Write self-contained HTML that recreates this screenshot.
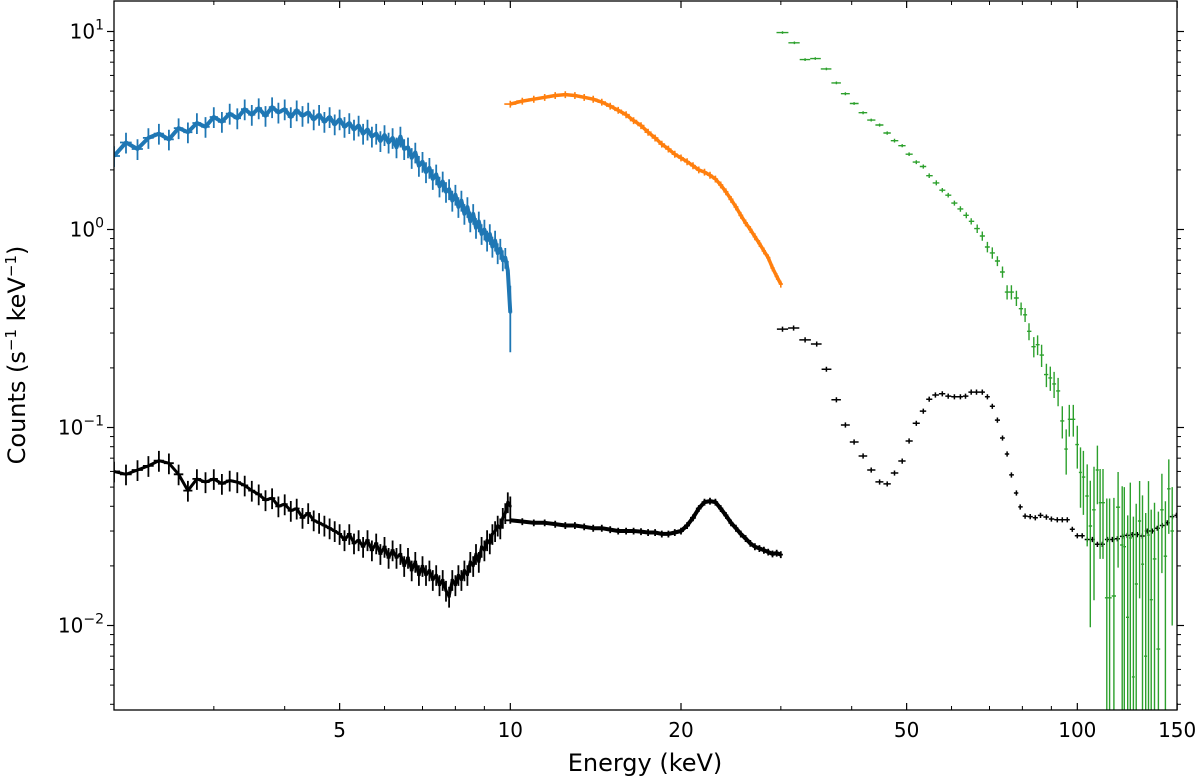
<!DOCTYPE html>
<html><head><meta charset="utf-8">
<style>
html,body{margin:0;padding:0;background:#fff;width:1200px;height:777px;overflow:hidden;}
svg{display:block;font-family:"DejaVu Sans","Liberation Sans",sans-serif;}
</style></head>
<body>
<svg id="chart" width="1200" height="777" viewBox="0 0 1200 777" xmlns="http://www.w3.org/2000/svg">
<defs><clipPath id="plotclip"><rect x="114" y="1" width="1063" height="709"/></clipPath></defs>
<rect x="0" y="0" width="1200" height="777" fill="#fff"/>
<g id="series" clip-path="url(#plotclip)"></g>
<g id="axes"></g>
<text x="645" y="771" font-size="24" text-anchor="middle">Energy (keV)</text>
<text transform="translate(25,355) rotate(-90)" font-size="24" text-anchor="middle">Counts (s<tspan font-size="15" dy="-9">−1</tspan><tspan dy="9"> keV</tspan><tspan font-size="15" dy="-9">−1</tspan><tspan dy="9">)</tspan></text>
</svg>
<script>
// ---- data ----
const blueE = [2.0,2.1,2.2,2.3,2.4,2.5,2.6,2.7,2.8,2.9,3.0,3.1,3.2,3.3,3.4,3.5,3.6,3.7,3.8,3.9,4.0,4.1,4.2,4.3,4.4,4.5,4.6,4.7,4.8,4.9,5.0,5.1,5.2,5.3,5.4,5.5,5.6,5.7,5.8,5.9,6.0,6.1,6.2,6.3,6.4,6.5,6.6,6.7,6.8,6.9,7.0,7.1,7.2,7.3,7.4,7.5,7.6,7.7,7.8,7.9,8.0,8.1,8.2,8.3,8.4,8.5,8.6,8.7,8.8,8.9,9.0,9.1,9.2,9.3,9.4,9.5,9.6,9.7,9.8,9.9,10.0];
const blueV = [2.35,2.75,2.55,2.9,3.05,2.85,3.25,3.1,3.45,3.3,3.7,3.5,3.85,3.65,4.05,3.8,4.1,3.75,4.15,3.9,4.05,3.7,4.0,3.75,3.9,3.6,3.8,3.5,3.7,3.4,3.6,3.3,3.45,3.2,3.35,3.05,3.2,2.95,3.05,2.8,3.0,2.75,2.9,2.6,2.95,2.55,2.6,2.3,2.45,2.1,2.2,1.95,2.05,1.8,1.9,1.65,1.75,1.55,1.6,1.4,1.5,1.3,1.4,1.2,1.3,1.1,1.2,1.02,1.1,0.95,1.0,0.88,0.95,0.82,0.88,0.76,0.8,0.7,0.72,0.62,0.38];
const blueRelErr = 0.12;
const blueLastErr = 0.14;

const orangeE = [10,10.5,11,11.5,12,12.5,13,13.5,14,14.5,15,15.5,16,16.5,17,17.5,18,18.5,19,19.5,20,20.5,21,21.5,22,22.5,23,23.5,24,24.5,25,25.5,26,26.5,27,27.5,28,28.5,29,29.5,30];
const orangeV = [4.3,4.45,4.55,4.65,4.75,4.8,4.75,4.65,4.55,4.4,4.2,4.0,3.8,3.55,3.35,3.1,2.9,2.7,2.55,2.4,2.3,2.2,2.1,2.0,1.95,1.88,1.8,1.68,1.55,1.42,1.3,1.18,1.08,1.0,0.92,0.85,0.78,0.72,0.64,0.58,0.53];
const orangeRelErr = 0.04;

const blackLowE = [2.0,2.1,2.2,2.3,2.4,2.5,2.6,2.7,2.8,2.9,3.0,3.1,3.2,3.3,3.4,3.5,3.6,3.7,3.8,3.9,4.0,4.1,4.2,4.3,4.4,4.5,4.6,4.7,4.8,4.9,5.0,5.1,5.2,5.3,5.4,5.5,5.6,5.7,5.8,5.9,6.0,6.1,6.2,6.3,6.4,6.5,6.6,6.7,6.8,6.9,7.0,7.1,7.2,7.3,7.4,7.5,7.6,7.7,7.8,7.9,8.0,8.1,8.2,8.3,8.4,8.5,8.6,8.7,8.8,8.9,9.0,9.1,9.2,9.3,9.4,9.5,9.6,9.7,9.8,9.9,10.0];
const blackLowV = [.060,.058,.061,.064,.068,.066,.058,.048,.055,.053,.055,.052,.054,.053,.051,.048,.046,.043,.044,.040,.041,.038,.039,.035,.037,.034,.033,.032,.031,.030,.029,.027,.029,.026,.027,.025,.027,.024,.026,.023,.025,.022,.024,.022,.023,.020,.022,.019,.021,.018,.020,.018,.019,.017,.018,.016,.017,.015,.014,.017,.016,.018,.017,.019,.018,.021,.020,.023,.021,.025,.024,.027,.026,.029,.030,.032,.031,.035,.037,.042,.040];
const blackLowRelErr = 0.12;

const blackMidE = [10,10.5,11,11.5,12,12.5,13,13.5,14,14.5,15,15.5,16,16.5,17,17.5,18,18.5,19,19.5,20,20.5,21,21.5,22,22.5,23,23.5,24,24.5,25,25.5,26,26.5,27,27.5,28,28.5,29,29.5,30];
const blackMidV = [.034,.0335,.033,.033,.0325,.032,.032,.0315,.031,.031,.0305,.030,.030,.030,.0298,.0295,.0295,.029,.029,.0295,.030,.032,.035,.039,.042,.0425,.042,.039,.036,.033,.031,.029,.0275,.026,.025,.0245,.024,.0235,.023,.0232,.0228];
const blackMidRelErr = 0.04;

const blackHighE = [30.2,31.6,33.1,34.7,36.1,37.6,39.0,40.4,41.9,43.3,44.8,46.2,47.6,49.1,50.5,52.0,53.5,54.8,56.2,57.8,59.2,60.7,62.2,63.5,65.0,66.4,68.0,69.4,70.8,72.3,73.8,75.2,76.5,78.1,79.3,80.9,82.6,84.3,86.1,88.2,90.0,92.2,94.1,96.0,98.0,100,102,104.1,106.3,108.5,110.7,113,115.3,117.7,120.1,122.5,125,127.6,130.2,132.9,135.6,138.4,141.2,144.1,147.1,149.6];
const blackHighV = [.314,.318,.277,.264,.197,.138,.103,.0845,.0718,.0610,.0531,.0519,.0589,.0677,.0855,.105,.121,.139,.146,.148,.144,.143,.143,.144,.151,.151,.151,.143,.128,.109,.0885,.0735,.0576,.0467,.0397,.0357,.0355,.0350,.0360,.0353,.0345,.0342,.0342,.0342,.0306,.0284,.0284,.0272,.0272,.0257,.0257,.0272,.0272,.0274,.0282,.0285,.0288,.0288,.0283,.030,.030,.031,.032,.033,.0355,.036];
const blackHighRelErr = 0.03;

const greenE = [30.2,31.7,33.1,34.5,36.1,37.6,39.0,40.4,41.9,43.3,44.8,46.2,47.6,49.1,50.5,52.0,53.5,54.8,56.4,57.8,59.2,60.7,62.2,63.7,65.0,66.6,68.0,69.4,70.8,72.3,73.8,75.2,76.5,78.1,79.6,80.9,82.2,83.8,85.1,86.5,88.2,89.6,91.0,92.5,94.1,95.6,96.8,98.4,100,101.3,102.5,104.1,105.4,107,108.5,109.7,111,112.7,114,116,118,120,121,122.7,124,125.6,127,128.8,130.3,132,133.5,135,136.8,139,141,143,145,147];
const greenV = [9.87,8.77,7.21,7.30,6.47,5.50,4.85,4.33,3.89,3.57,3.37,3.07,2.81,2.65,2.40,2.19,2.08,1.87,1.72,1.58,1.49,1.36,1.27,1.18,1.10,1.01,.927,.816,.762,.693,.61,.483,.483,.451,.398,.371,.306,.256,.262,.232,.185,.178,.166,.153,.108,.0778,.110,.110,.082,.0593,.0562,.0451,.0318,.0384,.061,.0417,.0417,.0138,.0138,.0141,.0396,.0255,.025,.011,.0277,.0055,.0162,.0337,.0204,.0070,.0286,.0135,.0217,.0076,.0384,.0224,.049,.030];
const greenErr = [.15,.13,.11,.11,.10,.09,.08,.07,.07,.06,.06,.06,.06,.05,.05,.05,.05,.05,.05,.04,.04,.04,.04,.04,.04,.05,.05,.05,.05,.04,.04,.04,.04,.04,.03,.03,.03,.03,.03,.03,.025,.025,.025,.025,.02,.02,.02,.02,.02,.02,.02,.02,.022,.025,.02,.02,.02,.03,.03,.03,.02,.025,.025,.025,.025,.03,.025,.02,.025,.03,.025,.025,.02,.03,.02,.02,.02,.02];

const xMajorTicks = [5,10,20,50,100,150];
const xMajorLabels = ["5","10","20","50","100","150"];
const xMinorTicks = [3,4,6,7,8,9,30,40,60,70,80,90];
const yMajorTicks = [10,1,0.1,0.01];
const yMajorExp = ["1","0","−1","−2"];

// ---- scales ----
const PL=114, PR=1177, PT=1, PB=710;
const xMin=2;
function X(e){ return PL + (Math.log10(e)-Math.log10(xMin))*567; }
function Y(v){ if(v<=0) return PB+1; return Math.min(PB+1, 31.5 + (1-Math.log10(v))*198); }

const NS="http://www.w3.org/2000/svg";
const gS=document.getElementById('series');
const gA=document.getElementById('axes');
function line(g,x1,y1,x2,y2,col,w){
  const l=document.createElementNS(NS,'line');
  l.setAttribute('x1',x1);l.setAttribute('y1',y1);l.setAttribute('x2',x2);l.setAttribute('y2',y2);
  l.setAttribute('stroke',col);l.setAttribute('stroke-width',w);
  g.appendChild(l);return l;
}

function drawSeries(name,E,V,errFn,col,w,bandW){
  const g=document.createElementNS(NS,'g');
  
  
  gS.appendChild(g);
  if(bandW){
    let pts='';
    for(let i=0;i<E.length;i++){ pts+=X(E[i]).toFixed(1)+','+Y(V[i]).toFixed(1)+' '; }
    const pl=document.createElementNS(NS,'polyline');
    pl.setAttribute('points',pts);pl.setAttribute('fill','none');pl.setAttribute('stroke',col);
    pl.setAttribute('stroke-width',bandW);pl.setAttribute('stroke-linejoin','round');
    
    
    g.appendChild(pl);
  }
  let d='';
  for(let i=0;i<E.length;i++){
    const e=E[i], v=V[i], er=errFn(i);
    const lo = i>0 ? Math.sqrt(E[i-1]*e) : e*e/Math.sqrt(e*E[i+1]);
    const hi = i<E.length-1 ? Math.sqrt(E[i+1]*e) : e*e/Math.sqrt(e*E[i-1]);
    const x=X(e), y=Y(v);
    d+=`M${Math.max(PL,X(lo)).toFixed(1)} ${y.toFixed(1)}H${Math.min(PR,X(hi)).toFixed(1)}`;
    d+=`M${x.toFixed(1)} ${Y(v+er).toFixed(1)}V${Y(v-er).toFixed(1)}`;
  }
  const p=document.createElementNS(NS,'path');
  p.setAttribute('d',d);p.setAttribute('stroke',col);p.setAttribute('stroke-width',w);p.setAttribute('fill','none');
  
  
  g.appendChild(p);
}

drawSeries('black-low-series',blackLowE,blackLowV,i=>blackLowV[i]*blackLowRelErr,'#000',1.8,3);
drawSeries('black-mid-series',blackMidE,blackMidV,i=>blackMidV[i]*blackMidRelErr,'#000',1.8,4);
drawSeries('black-high-series',blackHighE,blackHighV,i=>blackHighV[i]*blackHighRelErr,'#000',1.5,0);
drawSeries('blue-series',blueE,blueV,i=>i===blueV.length-1?blueLastErr:blueV[i]*blueRelErr,'#1f77b4',1.8,4);
drawSeries('orange-series',orangeE,orangeV,i=>orangeV[i]*orangeRelErr,'#ff7f0e',1.6,3.5);
drawSeries('green-series',greenE,greenV,i=>greenErr[i],'#2ca02c',1.4,0);

// ---- axes ----
const frame=document.createElementNS(NS,'rect');
frame.setAttribute('x',PL);frame.setAttribute('y',PT);frame.setAttribute('width',PR-PL);frame.setAttribute('height',PB-PT);
frame.setAttribute('fill','none');frame.setAttribute('stroke','#000');frame.setAttribute('stroke-width',1.3);


gA.appendChild(frame);

xMajorTicks.forEach((t,i)=>{
  const x=X(t);
  line(gA,x,PB,x,PB-7,'#000',1.2);
  line(gA,x,PT,x,PT+7,'#000',1.2);
  const tx=document.createElementNS(NS,'text');
  tx.setAttribute('x',x);tx.setAttribute('y',737);tx.setAttribute('font-size',20);tx.setAttribute('text-anchor','middle');
  tx.textContent=xMajorLabels[i];
  
  
  gA.appendChild(tx);
});
xMinorTicks.forEach(t=>{
  const x=X(t);
  line(gA,x,PB,x,PB-4,'#000',1);
  line(gA,x,PT,x,PT+4,'#000',1);
});
yMajorTicks.forEach((t,i)=>{
  const y=31.5 + (1-Math.log10(t))*198;
  line(gA,PL,y,PL-7,y,'#000',1.2);
  line(gA,PR,y,PR+7,y,'#000',1.2);
  const tx=document.createElementNS(NS,'text');
  tx.setAttribute('x',104);tx.setAttribute('y',y+7);tx.setAttribute('font-size',20);tx.setAttribute('text-anchor','end');
  tx.innerHTML='10<tspan font-size="14" dy="-9">'+yMajorExp[i]+'</tspan>';
  
  
  gA.appendChild(tx);
});
[0.001,0.01,0.1,1,10].forEach(dec=>{
  for(let m=2;m<=9;m++){
    const v=dec*m, y=31.5 + (1-Math.log10(v))*198;
    if(y<PT||y>PB) continue;
    line(gA,PL,y,PL-4,y,'#000',1);
    line(gA,PR,y,PR+4,y,'#000',1);
  }
});
</script>
</body></html>
